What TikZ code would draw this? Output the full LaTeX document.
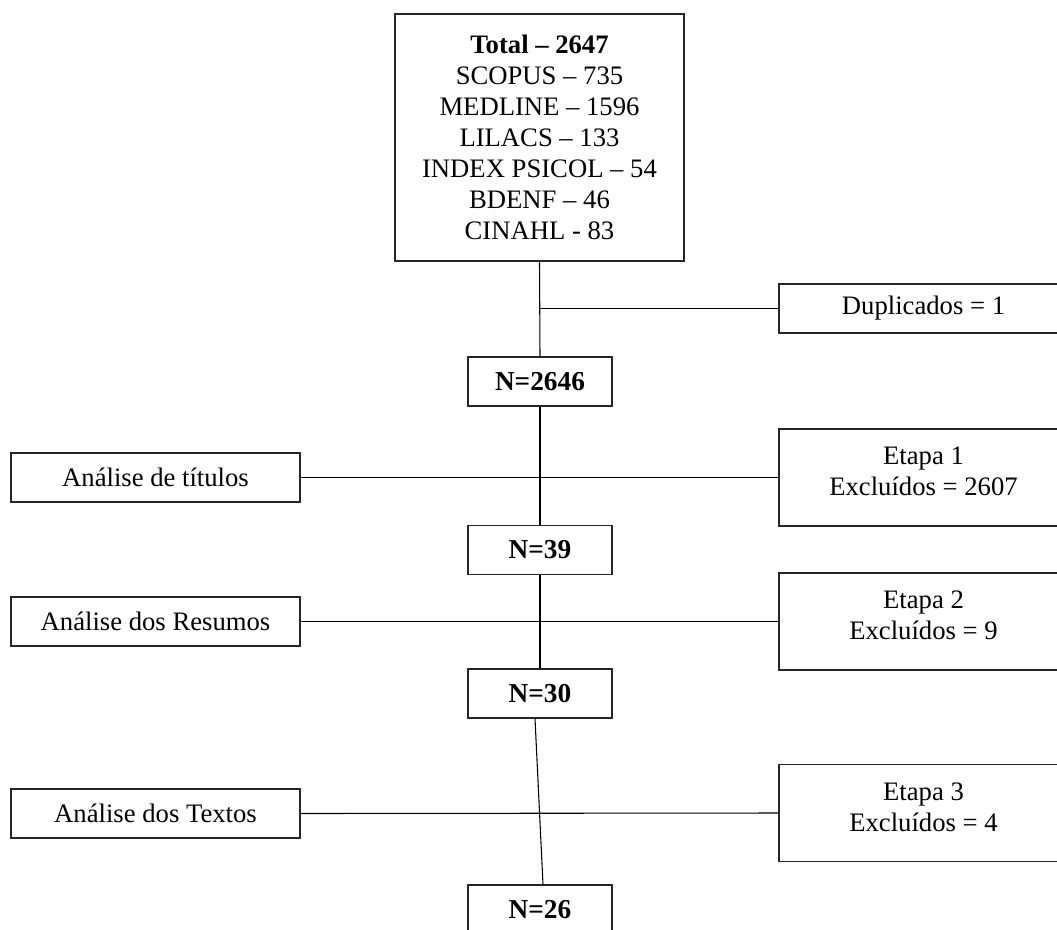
\documentclass[tikz,border=0pt]{standalone}
\usepackage{fontspec}
\setmainfont{Liberation Serif}
\usepackage{tikz}

\begin{document}
\begin{tikzpicture}
    [x=0.75pt,y=-0.75pt,
    font=\fontsize{20}{23.25}\selectfont,
    box/.style={draw=black!85,line width=0.9pt,fill=white,align=center,inner sep=0pt},
    sidebox/.style={box,minimum width=216.75pt,minimum height=36.75pt},
    stagebox/.style={box,minimum width=216.75pt,minimum height=72.75pt},
    countbox/.style={box,minimum width=108pt,minimum height=36.75pt,font=\fontsize{20.5}{23.25}\selectfont\bfseries},
    link/.style={black,line width=0.8pt}]

\useasboundingbox (0,0) rectangle (1057,929);
\clip (0,0) rectangle (1057,929);

%sources
\node[box,minimum width=216.75pt,minimum height=185.25pt] (total) at (539.5,137.5)
    {\textbf{Total – 2647}\\SCOPUS – 735\\MEDLINE – 1596\\LILACS – 133\\INDEX PSICOL – 54\\BDENF – 46\\CINAHL - 83};
\node[sidebox] (dup) at (923.5,308.5) {Duplicados = 1};

%counts
\node[countbox] (n1) at (540,381.5) {N=2646};
\node[countbox] (n2) at (540,550) {N=39};
\node[countbox] (n3) at (540,693.5) {N=30};
\node[countbox] (n4) at (540,909.5) {N=26};

%analysis steps
\node[sidebox] (titles) at (155.5,477.5) {Análise de títulos};
\node[sidebox] (abstracts) at (155.5,621.5) {Análise dos Resumos};
\node[sidebox] (texts) at (155.5,813.5) {Análise dos Textos};

%exclusions
\node[stagebox] (stage1) at (923.5,477.5) {};
\node[align=center] (stage1txt) at ([yshift=4.5pt]stage1.center) {Etapa 1\\Excluídos = 2607};
\node[stagebox] (stage2) at (923.5,621.5) {};
\node[align=center] (stage2txt) at ([yshift=4.5pt]stage2.center) {Etapa 2\\Excluídos = 9};
\node[stagebox] (stage3) at (923.5,813) {};
\node[align=center] (stage3txt) at ([yshift=4.5pt]stage3.center) {Etapa 3\\Excluídos = 4};

%draw connectors
\coordinate (split) at (total.south |- dup.west);
\draw[link] (total.south) -- (n1.north);
\draw[link] (split) -- (dup.west);
\draw[link] (n1.south) -- (n2.north);
\draw[link] (titles.east) -- (stage1.west);
\draw[link] (n2.south) -- (n3.north);
\draw[link] (abstracts.east) -- (stage2.west);
\draw[link] ([xshift=-3.75pt]n3.south) -- ([xshift=2.25pt]n4.north);
\draw[link] (texts.east) -- (stage3.west);

\end{tikzpicture}
\end{document}
